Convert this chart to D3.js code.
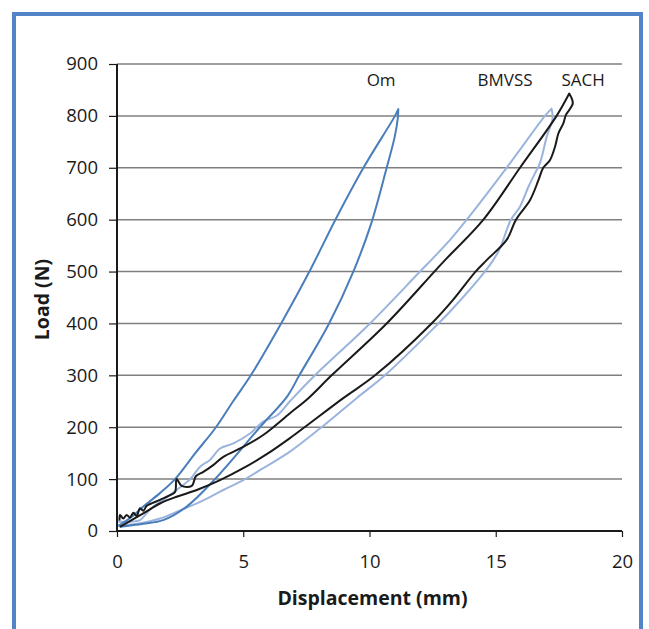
<!DOCTYPE html>
<html>
<head>
<meta charset="utf-8">
<script src="https://cdn.jsdelivr.net/npm/d3@7"></script>
<style>
  body { margin: 0; background: #fff; }
  svg text { font-family: "Open Sans", "Noto Sans", sans-serif; fill: #1a1a1a; }
</style>
</head>
<body>
<div id="chart"></div>
<script>
// load / unload branches, [displacement mm, load N]
const omLoad = [[0.05,10],[0.6,28],[1.04,47],[1.7,73],[2.3,100],[3.1,150],[3.92,200],[4.6,250],[5.3,300],[6.5,400],[7.62,500],[8.65,600],[9.76,700],[11.01,800],[11.14,813]];
const omUnload = [[0.1,8],[1.04,14],[1.83,21],[2.76,47],[3.88,100],[5.66,200],[6.75,260],[7.22,300],[8.4,400],[9.36,500],[10.05,590],[10.68,700],[11.0,760],[11.12,795],[11.14,813]];

const bmvssLoad = [[0.05,18],[0.51,18],[0.91,21],[1.17,34],[1.44,47],[1.83,60],[2.36,79],[2.9,100],[3.29,124],[3.68,137],[4.08,159],[4.61,169],[5.27,188],[5.79,211],[6.32,222],[6.85,250],[7.84,300],[10.02,400],[12.0,500],[12.5,525],[13.19,561],[13.85,600],[15.43,700],[16.95,800],[17.21,814]];
const bmvssUnload = [[0.05,10],[1.04,16],[1.7,24],[2.36,37],[3.29,56],[4.21,79],[5.0,98],[5.79,121],[6.85,153],[8.1,200],[9.49,256],[10.61,300],[12.73,400],[13.19,423],[14.57,500],[14.9,522],[15.17,545],[15.6,600],[15.96,625],[16.29,663],[16.55,689],[16.75,709],[17.02,760],[17.25,795],[17.21,814]];

const sachLoad = [[0.1,20],[0.12,31],[0.25,24],[0.38,31],[0.51,26],[0.65,35],[0.78,29],[0.91,44],[1.04,39],[1.17,48],[1.31,52],[1.7,60],[2.1,69],[2.3,75],[2.36,100],[2.56,87],[2.96,87],[3.13,106],[3.42,114],[3.81,127],[4.21,143],[5.0,162],[5.79,185],[6.85,227],[7.58,256],[8.5,300],[10.68,400],[12.57,500],[12.99,522],[14.51,600],[15.96,700],[17.41,800],[17.91,843]];
const sachUnload = [[0.12,8],[1.04,34],[1.7,53],[2.36,66],[3.16,79],[4.08,98],[5.0,121],[5.93,148],[6.85,179],[8.96,256],[10.22,300],[12.46,400],[13.3,445],[14.2,500],[14.64,522],[15.43,561],[15.8,600],[16.36,638],[16.69,676],[16.88,700],[17.15,715],[17.35,741],[17.48,766],[17.68,786],[17.78,802],[18.05,824],[17.91,843]];

const seriesNames = ["Om", "BMVSS", "SACH"];
const seriesColors = ["#4a7ebb", "#9ab4de", "#1a1a1a"];
const labelPos = [[10.46,869],[15.37,869],[18.46,869]];

const xTicks = [0, 5, 10, 15, 20];
const yTicks = [0, 100, 200, 300, 400, 500, 600, 700, 800, 900];

const W = 649, H = 629;
const margin = {top: 64, right: 27, bottom: 98, left: 117};
const width = W - margin.left - margin.right,
    height = H - margin.top - margin.bottom;

const svg = d3.select("#chart").append("svg")
    .attr("width", W)
    .attr("height", H);

// blue frame
svg.append("rect")
    .attr("x", 14).attr("y", 14)
    .attr("width", 627).attr("height", 640)
    .attr("fill", "none")
    .attr("stroke", "#5285c7")
    .attr("stroke-width", 4);

const g = svg.append("g")
    .attr("transform", "translate(" + margin.left + "," + margin.top + ")");

const x = d3.scaleLinear().domain([0, 20]).range([0, width]);
const y = d3.scaleLinear().domain([0, 900]).range([height, 0]);

// gridlines
g.append("g")
    .selectAll("line")
    .data(yTicks.filter(d => d > 0))
    .enter().append("line")
    .attr("x1", 0).attr("x2", width)
    .attr("y1", d => y(d)).attr("y2", d => y(d))
    .attr("stroke", "#7f7f7f")
    .attr("stroke-width", 1.5);

const xAxis = d3.axisBottom(x).tickValues(xTicks).tickSize(6).tickPadding(18);
const yAxis = d3.axisLeft(y).tickValues(yTicks).tickSize(8).tickPadding(11);

const gx = g.append("g")
    .attr("class", "x-axis axis")
    .attr("transform", "translate(0," + height + ")")
    .call(xAxis);
const gy = g.append("g")
    .attr("class", "y-axis axis")
    .call(yAxis);

[gx, gy].forEach(a => {
    a.select(".domain").attr("stroke", "#1a1a1a").attr("stroke-width", 2);
    a.selectAll(".tick line").attr("stroke", "#1a1a1a").attr("stroke-width", 1.2);
    a.selectAll("text").style("font-size", "18.5px").attr("fill", "#1a1a1a");
});
gx.select(".domain").attr("d", "M0,0H" + width);
gy.select(".domain").attr("d", "M0," + height + "V0");

// curves
const line = d3.line()
    .x(d => x(d[0]))
    .y(d => y(d[1]))
    .curve(d3.curveCatmullRom.alpha(0.5));

const loops = [
    omLoad.concat(omUnload.slice().reverse()),
    bmvssLoad.concat(bmvssUnload.slice().reverse()),
    sachLoad.concat(sachUnload.slice().reverse())
];

// draw light ones first so black sits on top
[1, 0, 2].forEach(i => {
    g.append("path")
        .datum(loops[i])
        .attr("d", line)
        .attr("fill", "none")
        .attr("stroke", seriesColors[i])
        .attr("stroke-width", 2)
        .attr("stroke-linejoin", "round");
});

// series labels
g.selectAll(".series-label")
    .data(seriesNames)
    .enter().append("text")
    .attr("class", "series-label")
    .attr("x", (d, i) => x(labelPos[i][0]))
    .attr("y", (d, i) => y(labelPos[i][1]) + 6)
    .attr("text-anchor", "middle")
    .style("font-size", "17px")
    .text(d => d);

// axis titles
svg.append("text")
    .attr("x", margin.left + width / 2 + 3)
    .attr("y", 605)
    .attr("text-anchor", "middle")
    .style("font-size", "19.5px")
    .style("font-weight", "bold")
    .text("Displacement (mm)");

svg.append("text")
    .attr("transform", "translate(49," + (margin.top + height / 2 + 2) + ") rotate(-90)")
    .attr("text-anchor", "middle")
    .style("font-size", "19.5px")
    .style("font-weight", "bold")
    .text("Load (N)");
</script>
</body>
</html>
